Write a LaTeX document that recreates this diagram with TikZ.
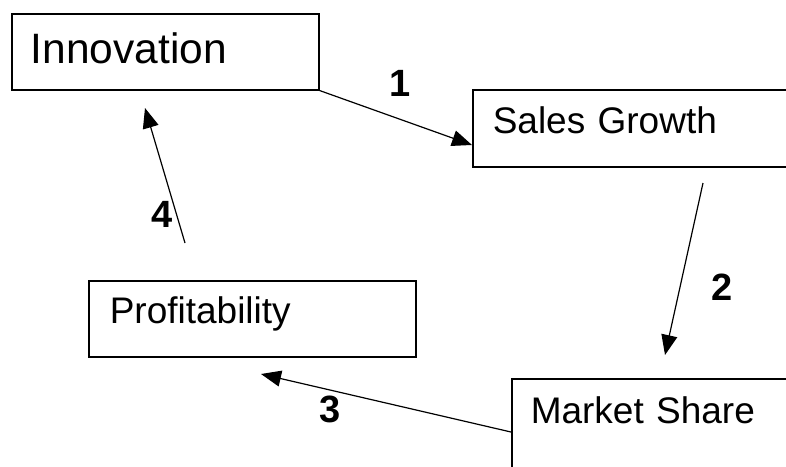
\documentclass[tikz,border=0pt]{standalone}
\usepackage{fontspec}
\setmainfont{Liberation Sans}
\usetikzlibrary{arrows.meta}

\tikzset{
  box/.style={draw, line width=1.5pt, anchor=north west, inner ysep=0pt, align=left},
  bigtext/.style={font=\fontsize{42.5}{50}\selectfont},
  midtext/.style={font=\fontsize{37}{43}\selectfont},
  link/.style={line width=1.2pt, -{Triangle[length=20pt,width=16pt]}},
  steplabel/.style={anchor=base, inner sep=0pt, font=\fontsize{38}{44}\selectfont\bfseries}
}

\begin{document}
\begin{tikzpicture}[x=1pt, y=-1pt]
  \useasboundingbox (0,0) rectangle (786,466);
  \clip (0,0) rectangle (786,466);

  % boxes (the two on the right run past the page edge)
  \node[box, bigtext, inner xsep=19pt, text width=269pt, text height=50pt, text depth=26pt]
    (inn) at (11,13) {Innovation};
  \node[box, midtext, inner xsep=20pt, text width=400pt, text height=44pt, text depth=33pt]
    (sg) at (472,89) {Sales Growth};
  \node[box, midtext, inner xsep=19pt, text width=400pt, text height=45pt, text depth=60pt]
    (ms) at (511,378) {Market Share};
  \node[box, midtext, inner xsep=21pt, text width=285pt, text height=43pt, text depth=33pt]
    (pr) at (88,280) {Profitability};

  % connector end points
  \coordinate (e1) at (472,145);
  \coordinate (s2) at (703,183);
  \coordinate (e2) at (665,355);
  \coordinate (s3) at (511,432);
  \coordinate (e3) at (261,374);
  \coordinate (s4) at (185,243);
  \coordinate (e4) at (145,108);

  % cycle arrows
  \draw[link] (inn.south east) -- (e1);
  \draw[link] (s2) -- (e2);
  \draw[link] (s3) -- (e3);
  \draw[link] (s4) -- (e4);

  % step numbers
  \node[steplabel] (n1) at (400,96) {1};
  \node[steplabel] (n2) at (722,300) {2};
  \node[steplabel] (n3) at (330,422) {3};
  \node[steplabel] (n4) at (162,227) {4};
\end{tikzpicture}
\end{document}
